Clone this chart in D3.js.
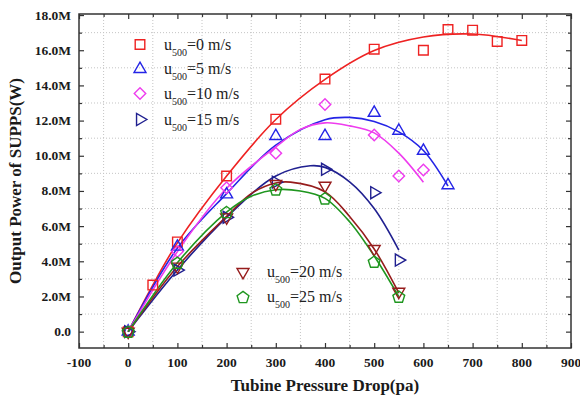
<!DOCTYPE html>
<html>
<head>
<meta charset="utf-8">
<script src="https://cdn.jsdelivr.net/npm/d3@7"></script>
<style>
  body { margin: 0; background: #fff; }
  text { font-family: "Liberation Serif", "Times New Roman", serif; }
  .tick-label { font-weight: bold; font-size: 13.5px; fill: #1a1a1a; }
  .axis-title { font-weight: bold; font-size: 17px; fill: #1a1a1a; }
  .legend-text { font-size: 16px; fill: #222; }
</style>
</head>
<body>
<svg id="chart"></svg>
<script>
// series labels (u500 wind speeds)
const seriesNames = ["0", "5", "10", "15", "20", "25"];

// measured points: [pressure drop (pa), power (M W)]
const pts0  = [[0,0],[50,2.65],[100,5.1],[200,8.85],[300,12.08],[400,14.36],[500,16.06],[600,16.0],[650,17.18],[700,17.14],[750,16.5],[800,16.56]];
const pts5  = [[0,0],[100,4.83],[200,7.8],[300,11.12],[400,11.12],[500,12.44],[550,11.42],[600,10.28],[650,8.32]];
const pts10 = [[0,0],[100,4.55],[200,8.18],[300,10.14],[400,12.92],[500,11.18],[550,8.85],[600,9.19]];
const pts15 = [[0,0],[100,3.5],[200,6.5],[300,8.5],[400,9.23],[500,7.9],[550,4.07]];
const pts20 = [[0,0],[100,3.7],[200,6.5],[300,8.4],[400,8.3],[500,4.7],[550,2.27]];
const pts25 = [[0,0],[100,3.92],[200,6.8],[300,8.09],[400,7.58],[500,3.98],[550,1.99]];

// fitted lines
const fit0  = [[0,0],[50,2.65],[100,5.05],[200,8.85],[300,12.06],[400,14.34],[500,15.98],[600,16.75],[700,16.92],[800,16.55]];
const fit5  = [[0,0],[100,4.75],[200,7.85],[300,10.6],[400,12.05],[450,12.18],[500,11.95],[550,11.36],[600,10.3],[650,8.28]];
const fit10 = [[0,0],[100,4.55],[200,8.15],[300,10.5],[350,11.5],[400,11.87],[450,11.7],[500,11.3],[550,10.15],[600,8.5]];
const fit15 = [[0,0],[100,3.5],[200,6.5],[300,8.85],[370,9.43],[400,9.34],[450,8.52],[500,7.0],[550,4.64]];
const fit20 = [[0,0],[100,3.7],[200,6.55],[250,7.85],[300,8.45],[330,8.5],[400,7.95],[450,6.55],[500,4.7],[550,2.2]];
const fit25 = [[0,0],[100,3.92],[200,6.8],[250,7.7],[300,8.07],[350,8.0],[400,7.58],[450,6.25],[500,4.3],[550,1.99]];

// axis ticks
const xTicks = [-100, 0, 100, 200, 300, 400, 500, 600, 700, 800, 900];
const yTicks = [0, 2, 4, 6, 8, 10, 12, 14, 16, 18];

class ScatterFit {
    constructor(_config) {
        this.config = {
            parentElement: _config.parentElement,
            containerWidth: _config.containerWidth || 580,
            containerHeight: _config.containerHeight || 397,
            margin: { top: 14, bottom: 49, right: 9, left: 79 }
        }
        this.series = [
            { name: seriesNames[0], pts: pts0, fit: fit0, color: "#ee2222", shape: "square" },
            { name: seriesNames[1], pts: pts5, fit: fit5, color: "#2424e6", shape: "triUp" },
            { name: seriesNames[2], pts: pts10, fit: fit10, color: "#ee3cee", shape: "diamond" },
            { name: seriesNames[3], pts: pts15, fit: fit15, color: "#202090", shape: "triRight" },
            { name: seriesNames[4], pts: pts20, fit: fit20, color: "#961c1c", shape: "triDown" },
            { name: seriesNames[5], pts: pts25, fit: fit25, color: "#1f961f", shape: "pentagon" }
        ];
        this.initVis();
    }

    initVis() {
        let vis = this;
        vis.width = vis.config.containerWidth - vis.config.margin.left - vis.config.margin.right;
        vis.height = vis.config.containerHeight - vis.config.margin.top - vis.config.margin.bottom;

        vis.xScale = d3.scaleLinear().domain([-100, 900]).range([0, vis.width]);
        vis.yScale = d3.scaleLinear().domain([-0.93, 18.06]).range([vis.height, 0]);

        vis.svg = d3.select(vis.config.parentElement)
            .attr("width", vis.config.containerWidth)
            .attr("height", vis.config.containerHeight);

        vis.chart = vis.svg.append("g")
            .attr("transform", `translate(${vis.config.margin.left},${vis.config.margin.top})`);

        vis.renderVis();
    }

    markerPath(shape) {
        if (shape === "pentagon") {
            const r = 6.2;
            const p = d3.range(5).map(i => {
                const a = -Math.PI / 2 + i * 2 * Math.PI / 5;
                return [r * Math.cos(a), r * Math.sin(a) + 0.6];
            });
            return "M" + p.map(q => q.join(",")).join("L") + "Z";
        }
        if (shape === "square") return d3.symbol(d3.symbolSquare, 92)();
        if (shape === "diamond") return d3.symbol(d3.symbolSquare, 66)();
        return d3.symbol(d3.symbolTriangle, 62)();
    }

    markerRotate(shape) {
        if (shape === "diamond") return 45;
        if (shape === "triRight") return 90;
        if (shape === "triDown") return 180;
        return 0;
    }

    renderVis() {
        let vis = this;
        const x = vis.xScale, y = vis.yScale;

        // dotted grid at the minor positions
        const gridX = d3.range(-50, 900, 100);
        const gridY = d3.range(1, 18, 2);
        vis.chart.append("g").selectAll("line").data(gridX).join("line")
            .attr("x1", d => x(d)).attr("x2", d => x(d))
            .attr("y1", 0).attr("y2", vis.height)
            .attr("stroke", "#c4c4c4").attr("stroke-dasharray", "1,2");
        vis.chart.append("g").selectAll("line").data(gridY).join("line")
            .attr("y1", d => y(d)).attr("y2", d => y(d))
            .attr("x1", 0).attr("x2", vis.width)
            .attr("stroke", "#c4c4c4").attr("stroke-dasharray", "1,2");

        // fitted curves
        const line = d3.line().x(d => x(d[0])).y(d => y(d[1])).curve(d3.curveCatmullRom.alpha(0.5));
        vis.chart.append("g").selectAll("path").data(vis.series).join("path")
            .attr("d", d => line(d.fit))
            .attr("fill", "none")
            .attr("stroke", d => d.color)
            .attr("stroke-width", 1.6);

        // markers
        vis.series.forEach(s => {
            vis.chart.append("g").selectAll("path").data(s.pts).join("path")
                .attr("d", vis.markerPath(s.shape))
                .attr("transform", d => `translate(${x(d[0])},${y(d[1])}) rotate(${vis.markerRotate(s.shape)})`)
                .attr("fill", "none")
                .attr("stroke", s.color)
                .attr("stroke-width", 1.4);
        });

        // axes: ticks inward on all four sides
        const xMinor = d3.range(-50, 900, 100);
        const yMinor = d3.range(1, 18, 2);
        vis.chart.append("g").attr("transform", `translate(0,${vis.height})`)
            .call(d3.axisBottom(x).tickValues(xTicks).tickSizeInner(-5).tickSizeOuter(0).tickFormat(""));
        vis.chart.append("g").attr("transform", `translate(0,${vis.height})`)
            .call(d3.axisBottom(x).tickValues(xMinor).tickSizeInner(-3).tickSizeOuter(0).tickFormat(""));
        vis.chart.append("g")
            .call(d3.axisTop(x).tickValues(xTicks).tickSizeInner(-5).tickSizeOuter(0).tickFormat(""));
        vis.chart.append("g")
            .call(d3.axisTop(x).tickValues(xMinor).tickSizeInner(-3).tickSizeOuter(0).tickFormat(""));
        vis.chart.append("g")
            .call(d3.axisLeft(y).tickValues(yTicks).tickSizeInner(-5).tickSizeOuter(0).tickFormat(""));
        vis.chart.append("g")
            .call(d3.axisLeft(y).tickValues(yMinor).tickSizeInner(-3).tickSizeOuter(0).tickFormat(""));
        vis.chart.append("g").attr("transform", `translate(${vis.width},0)`)
            .call(d3.axisRight(y).tickValues(yTicks).tickSizeInner(-5).tickSizeOuter(0).tickFormat(""));
        vis.chart.append("g").attr("transform", `translate(${vis.width},0)`)
            .call(d3.axisRight(y).tickValues(yMinor).tickSizeInner(-3).tickSizeOuter(0).tickFormat(""));
        vis.chart.selectAll(".domain").remove();
        vis.chart.selectAll(".tick line").attr("stroke", "#333").attr("stroke-width", 1.2);

        vis.chart.append("rect")
            .attr("width", vis.width).attr("height", vis.height)
            .attr("fill", "none").attr("stroke", "#333").attr("stroke-width", 1.5);

        // tick labels
        vis.chart.append("g").selectAll("text").data(xTicks).join("text")
            .attr("class", "tick-label")
            .attr("x", d => x(d)).attr("y", vis.height + 19)
            .attr("text-anchor", "middle")
            .text(d => d);
        vis.chart.append("g").selectAll("text").data(yTicks).join("text")
            .attr("class", "tick-label")
            .attr("x", -8).attr("y", d => y(d) + 4.5)
            .attr("text-anchor", "end")
            .text(d => d === 0 ? "0.0" : d.toFixed(1) + "M");

        // axis titles
        vis.svg.append("text")
            .attr("class", "axis-title")
            .attr("x", vis.config.margin.left + x(400))
            .attr("y", 391)
            .attr("text-anchor", "middle")
            .text("Tubine Pressure Drop(pa)");
        vis.svg.append("text")
            .attr("class", "axis-title")
            .attr("transform", "rotate(-90)")
            .attr("x", -(vis.config.margin.top + vis.height / 2))
            .attr("y", 21)
            .attr("text-anchor", "middle")
            .text("Output Power of SUPPS(W)");

        // legends
        const legPos = [[140, 44.5], [140, 69], [140, 93.5], [140, 119.5], [243, 272], [243, 297]];
        vis.series.forEach((s, i) => {
            const [lx, ly] = legPos[i];
            vis.svg.append("path")
                .attr("d", vis.markerPath(s.shape))
                .attr("transform", `translate(${lx},${ly}) rotate(${vis.markerRotate(s.shape)})`)
                .attr("fill", "none")
                .attr("stroke", s.color)
                .attr("stroke-width", 1.4);
            const t = vis.svg.append("text")
                .attr("class", "legend-text")
                .attr("x", lx + 24).attr("y", ly + 5);
            t.append("tspan").text("u");
            t.append("tspan").attr("dy", 6).attr("font-size", "10px").text("500");
            t.append("tspan").attr("dy", -6).text(`=${s.name} m/s`);
        });
    }
}

new ScatterFit({ parentElement: "#chart", containerWidth: 580, containerHeight: 397 });
</script>
</body>
</html>
